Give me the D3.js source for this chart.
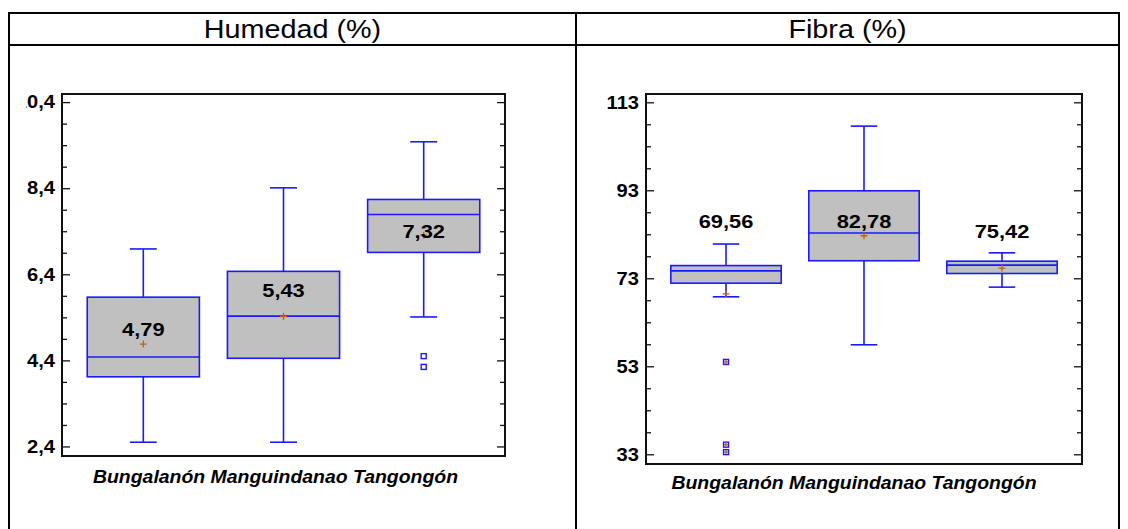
<!DOCTYPE html>
<meta charset="utf-8">
<head>
<style>
body { margin: 0; background: #fff; }
svg { display: block; }
text { font-family: "Liberation Sans", Arial, sans-serif; fill: #000; }
.title { font-size: 25px; }
.tick-label { font-size: 17.5px; font-weight: bold; }
.value-label { font-size: 19px; font-weight: bold; }
.cat-label { font-size: 18px; font-weight: bold; font-style: italic; }
.cell { stroke: #000; stroke-width: 2px; fill: none; }
.frame { stroke: #111; stroke-width: 2px; fill: none; }
.tick { stroke: #111; stroke-width: 1.3px; }
.box { fill: #c0c0c0; stroke: #1a1aff; stroke-width: 1.6px; }
.whisker { stroke: #1a1aff; stroke-width: 1.6px; }
.mean { stroke: #c0601a; stroke-width: 1.3px; }
.outlier { fill: #fff; stroke: #1a1aff; stroke-width: 1.4px; }
</style>
<script src="https://d3js.org/d3.v7.min.js"></script>
</head>
<body>
<svg width="1128" height="529"></svg>
<script>

// categories (same for both panels)
var groups = ["Bungalanón", "Manguindanao", "Tangongón"];

// Humedad (%)
var humMin  = [2.51, 2.51, 5.42];
var humQ1   = [4.03, 4.46, 6.92];
var humMed  = [4.49, 5.44, 7.80];
var humQ3   = [5.88, 6.48, 8.15];
var humMax  = [7.00, 8.42, 9.49];
var humMean = [4.79, 5.43, 7.32];
var humOut  = [[], [], [4.51, 4.26]];
var humTicks = [2.4, 4.4, 6.4, 8.4, 10.4];
var humLabelAt = [5.14, 6.05, 7.42];   // where the mean label sits (data units)

// Fibra (%)
var fibMin  = [68.9, 58.0, 71.1];
var fibQ1   = [72.0, 77.1, 74.2];
var fibMed  = [74.8, 83.4, 76.1];
var fibQ3   = [76.0, 93.0, 77.0];
var fibMax  = [80.9, 107.7, 78.9];
var fibMean = [69.56, 82.78, 75.42];
var fibOut  = [[54.1, 35.3, 33.6], [], []];
var fibTicks = [33, 53, 73, 93, 113];
var fibLabelAt = [86.2, 86.1, 83.8];

var locale = d3.formatLocale({decimal: ",", thousands: ".", grouping: [3], currency: ["", ""]});

var svg = d3.select("svg");
var STRETCH = 1.15; // the pasted chart image is a bit wider than tall

function stretched(sel, x, y, k) {
  return sel.attr("transform", "translate(" + x + "," + y + ") scale(" + (k || STRETCH) + ",1)");
}

// table around the two charts
var cellTop = 13, headLine = 45, leftX = 9, midX = 576, rightX = 1119;
svg.append("line").attr("class", "cell").attr("x1", leftX).attr("x2", rightX).attr("y1", cellTop).attr("y2", cellTop);
svg.append("line").attr("class", "cell").attr("x1", leftX).attr("x2", rightX).attr("y1", headLine).attr("y2", headLine);
[leftX, midX, rightX].forEach(function(x) {
  svg.append("line").attr("class", "cell").attr("x1", x).attr("x2", x).attr("y1", cellTop - 1).attr("y2", 529);
});

var panels = [
  {title: "Humedad (%)", cx: (leftX + midX) / 2,
   x0: 62, x1: 505, y0: 94, y1: 456, domain: [2.19, 10.6], minor: 0.5,
   ticks: humTicks, tickFmt: locale.format(".1f"), clipX: 26,
   min: humMin, q1: humQ1, med: humMed, q3: humQ3, max: humMax, mean: humMean,
   out: humOut, labelAt: humLabelAt, outPlus: false, catY: 477, catDx: -8},
  {title: "Fibra (%)", cx: (midX + rightX) / 2,
   x0: 646, x1: 1082, y0: 94, y1: 464, domain: [30.9, 115], minor: 5,
   ticks: fibTicks, tickFmt: locale.format("d"), clipX: 0,
   min: fibMin, q1: fibQ1, med: fibMed, q3: fibQ3, max: fibMax, mean: fibMean,
   out: fibOut, labelAt: fibLabelAt, outPlus: true, catY: 483, catDx: -10}
];

var valFmt = locale.format(".2f");

panels.forEach(function(p, pi) {

  stretched(svg.append("text").attr("class", "title")
      .attr("text-anchor", "middle").attr("dy", "0.35em")
      .text(p.title), p.cx, (cellTop + headLine) / 2);

  var x = d3.scaleBand().domain(groups).range([p.x0, p.x1])
      .paddingInner(0.2).paddingOuter(0.18);
  var y = d3.scaleLinear().domain(p.domain).range([p.y1, p.y0]);

  var g = svg.append("g");

  // clip for the tick labels (left chart was cropped when pasted)
  var clipId = "clip" + pi;
  svg.append("clipPath").attr("id", clipId)
    .append("rect").attr("x", p.clipX).attr("y", 0).attr("width", 1128).attr("height", 529);

  // ticks inward, both sides
  var step = p.minor;
  var start = p.ticks[0] - Math.floor((p.ticks[0] - p.domain[0]) / step) * step;
  var minors = [];
  for (var v = start; v <= p.domain[1] + 1e-9; v += step) minors.push(Math.round(v * 100) / 100);
  minors.forEach(function(v) {
    var major = p.ticks.some(function(t) { return Math.abs(t - v) < 1e-6; });
    var len = major ? 8 : 5;
    g.append("line").attr("class", "tick")
      .attr("x1", p.x0).attr("x2", p.x0 + len).attr("y1", y(v)).attr("y2", y(v));
    g.append("line").attr("class", "tick")
      .attr("x1", p.x1).attr("x2", p.x1 - len).attr("y1", y(v)).attr("y2", y(v));
  });

  var labels = g.append("g").attr("clip-path", "url(#" + clipId + ")");
  p.ticks.forEach(function(t) {
    stretched(labels.append("text").attr("class", "tick-label")
        .attr("text-anchor", "end").attr("dy", "0.33em")
        .text(p.tickFmt(t)), p.x0 - 7, y(t));
  });

  // boxes
  var bw = x.bandwidth(), cap = bw * 0.24;
  groups.forEach(function(c, i) {
    var cx = x(c) + bw / 2;
    g.append("line").attr("class", "whisker")
      .attr("x1", cx).attr("x2", cx).attr("y1", y(p.q3[i])).attr("y2", y(p.max[i]));
    g.append("line").attr("class", "whisker")
      .attr("x1", cx).attr("x2", cx).attr("y1", y(p.q1[i])).attr("y2", y(p.min[i]));
    g.append("line").attr("class", "whisker")
      .attr("x1", cx - cap / 2).attr("x2", cx + cap / 2).attr("y1", y(p.max[i])).attr("y2", y(p.max[i]));
    g.append("line").attr("class", "whisker")
      .attr("x1", cx - cap / 2).attr("x2", cx + cap / 2).attr("y1", y(p.min[i])).attr("y2", y(p.min[i]));
    g.append("rect").attr("class", "box")
      .attr("x", x(c)).attr("width", bw)
      .attr("y", y(p.q3[i])).attr("height", y(p.q1[i]) - y(p.q3[i]));
    g.append("line").attr("class", "whisker")
      .attr("x1", x(c)).attr("x2", x(c) + bw).attr("y1", y(p.med[i])).attr("y2", y(p.med[i]));

    // mean marker
    var my = y(p.mean[i]);
    g.append("path").attr("class", "mean")
      .attr("d", "M" + (cx - 3.5) + "," + my + "h7M" + cx + "," + (my - 3.5) + "v7");

    // outliers
    p.out[i].forEach(function(o) {
      var oy = y(o);
      g.append("rect").attr("class", "outlier")
        .attr("x", cx - 2.5).attr("y", oy - 2.5).attr("width", 5).attr("height", 5);
      if (p.outPlus) {
        g.append("path").attr("class", "mean")
          .attr("d", "M" + (cx - 2) + "," + oy + "h4M" + cx + "," + (oy - 2) + "v4");
      }
    });

    stretched(g.append("text").attr("class", "value-label")
        .attr("text-anchor", "middle").attr("dy", "0.36em")
        .text(valFmt(p.mean[i])), cx, y(p.labelAt[i]));
  });

  // plot frame
  g.append("rect").attr("class", "frame")
    .attr("x", p.x0).attr("y", p.y0).attr("width", p.x1 - p.x0).attr("height", p.y1 - p.y0);

  // category names, run together under the frame
  stretched(g.append("text").attr("class", "cat-label")
      .attr("text-anchor", "middle").attr("dy", "0.35em")
      .text(groups.join(" ")), (p.x0 + p.x1) / 2 + p.catDx, p.catY, 1.08);
});

</script>
</body>
